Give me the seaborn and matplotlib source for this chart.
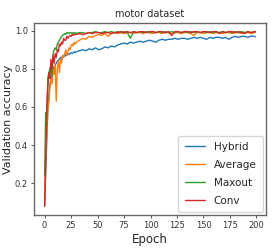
import numpy as np
import pandas as pd
import matplotlib
matplotlib.use('Agg')  # no display
import matplotlib.pyplot as plt
import seaborn as sns

# epochs: every epoch early on, then every third epoch
epochs = list(range(0, 30)) + list(range(30, 200, 3)) + [199]

hybrid = [0.08, 0.25, 0.42, 0.58, 0.66, 0.72, 0.75, 0.78, 0.80, 0.81,
          0.82, 0.83, 0.84, 0.845, 0.85, 0.86, 0.855, 0.865, 0.87, 0.865,
          0.875, 0.87, 0.88, 0.875, 0.88, 0.885, 0.88, 0.885, 0.89, 0.885,
          0.89, 0.895, 0.90, 0.895, 0.905, 0.90, 0.91, 0.90, 0.905, 0.915,
          0.91, 0.92, 0.915, 0.925, 0.93, 0.935, 0.93, 0.94, 0.935, 0.94,
          0.945, 0.94, 0.945, 0.95, 0.945, 0.94, 0.95, 0.955, 0.95, 0.955,
          0.955, 0.96, 0.955, 0.96, 0.96, 0.955, 0.96, 0.965, 0.96, 0.965,
          0.96, 0.955, 0.965, 0.96, 0.965, 0.965, 0.96, 0.965, 0.955, 0.965,
          0.97, 0.965, 0.97, 0.97, 0.965, 0.972, 0.97, 0.968]

average = [0.10, 0.35, 0.45, 0.58, 0.62, 0.70, 0.75, 0.72, 0.80, 0.77,
           0.82, 0.63, 0.80, 0.84, 0.78, 0.85, 0.83, 0.87, 0.86, 0.88,
           0.90, 0.87, 0.89, 0.91, 0.90, 0.92, 0.93, 0.92, 0.94, 0.93,
           0.94, 0.95, 0.96, 0.955, 0.97, 0.965, 0.975, 0.98, 0.975, 0.985,
           0.97, 0.985, 0.99, 0.985, 0.99, 0.985, 0.99, 0.99, 0.985, 0.99,
           0.99, 0.985, 0.99, 0.99, 0.985, 0.99, 0.99, 0.985, 0.99, 0.99,
           0.985, 0.99, 0.99, 0.985, 0.99, 0.99, 0.985, 0.975, 0.99, 0.99,
           0.985, 0.99, 0.99, 0.985, 0.99, 0.99, 0.985, 0.99, 0.99, 0.985,
           0.99, 0.99, 0.985, 0.99, 0.99, 0.985, 0.99, 0.99]

maxout = [0.24, 0.57, 0.50, 0.75, 0.78, 0.80, 0.82, 0.76, 0.88, 0.90,
          0.91, 0.90, 0.93, 0.94, 0.95, 0.96, 0.97, 0.975, 0.98, 0.985,
          0.98, 0.99, 0.99, 0.985, 0.99, 0.99, 0.985, 0.99, 0.985, 0.99,
          0.985, 0.99, 0.99, 0.985, 0.99, 0.99, 0.995, 0.99, 0.99, 0.995,
          0.99, 0.995, 0.99, 0.995, 0.99, 0.995, 0.99, 0.96, 0.995, 0.99,
          0.995, 0.99, 0.995, 0.99, 0.995, 0.99, 0.995, 0.99, 0.995, 0.99,
          0.995, 0.99, 0.995, 0.99, 0.995, 0.99, 0.995, 0.99, 0.995, 0.99,
          0.995, 0.99, 0.995, 0.99, 0.995, 0.99, 0.995, 0.99, 0.995, 0.99,
          0.995, 0.99, 0.995, 0.99, 0.995, 0.99, 0.995, 0.995]

conv = [0.08, 0.30, 0.60, 0.70, 0.78, 0.75, 0.85, 0.80, 0.87, 0.83,
        0.88, 0.86, 0.90, 0.89, 0.93, 0.92, 0.94, 0.93, 0.96, 0.95,
        0.95, 0.97, 0.96, 0.97, 0.975, 0.97, 0.98, 0.975, 0.98, 0.98,
        0.98, 0.985, 0.98, 0.985, 0.99, 0.985, 0.99, 0.99, 0.985, 0.99,
        0.99, 0.985, 0.99, 0.99, 0.995, 0.99, 0.995, 0.99, 0.995, 0.99,
        0.995, 0.995, 0.99, 0.995, 0.995, 0.99, 0.995, 0.995, 0.99, 0.995,
        0.975, 0.995, 0.995, 0.99, 0.995, 0.995, 0.99, 0.995, 0.995, 0.99,
        0.995, 0.995, 0.99, 0.995, 0.995, 0.985, 0.995, 0.99, 0.995, 0.995,
        0.99, 0.995, 0.99, 0.985, 0.995, 0.99, 0.995, 0.995]

names = ['Hybrid', 'Average', 'Maxout', 'Conv']
series = [hybrid, average, maxout, conv]

frames = []
for name, vals in zip(names, series):
    frames.append(pd.DataFrame({'Epoch': epochs, 'acc': vals, 'model': name}))
df = pd.concat(frames, ignore_index=True)

sns.set_style('ticks')
plt.rcParams['font.family'] = ['DejaVu Sans']

fig = plt.figure(figsize=(2.77, 2.49), dpi=100)
ax = fig.add_axes([0.123, 0.137, 0.837, 0.771])
sns.lineplot(data=df, x='Epoch', y='acc', hue='model', hue_order=names,
             palette=sns.color_palette('tab10', 4), linewidth=1.0, ax=ax)

ax.set_xticks([0, 25, 50, 75, 100, 125, 150, 175, 200])
ax.set_yticks([0.2, 0.4, 0.6, 0.8, 1.0])
ax.tick_params(labelsize=6, length=2.5, width=0.6, pad=2, colors='#333333')
for s in ax.spines.values():
    s.set_color('#666666')
    s.set_linewidth(1.0)
ax.set_title('motor dataset', fontsize=7, pad=4)
ax.set_xlabel('Epoch', fontsize=8.5, labelpad=2)
ax.set_ylabel('Validation accuracy', fontsize=8, labelpad=1)
ax.legend(loc='lower right', fontsize=7.5, handlelength=2.0, labelspacing=0.75,
          borderpad=0.6, borderaxespad=0.3, frameon=True)

fig.savefig('out.png', dpi=100)
